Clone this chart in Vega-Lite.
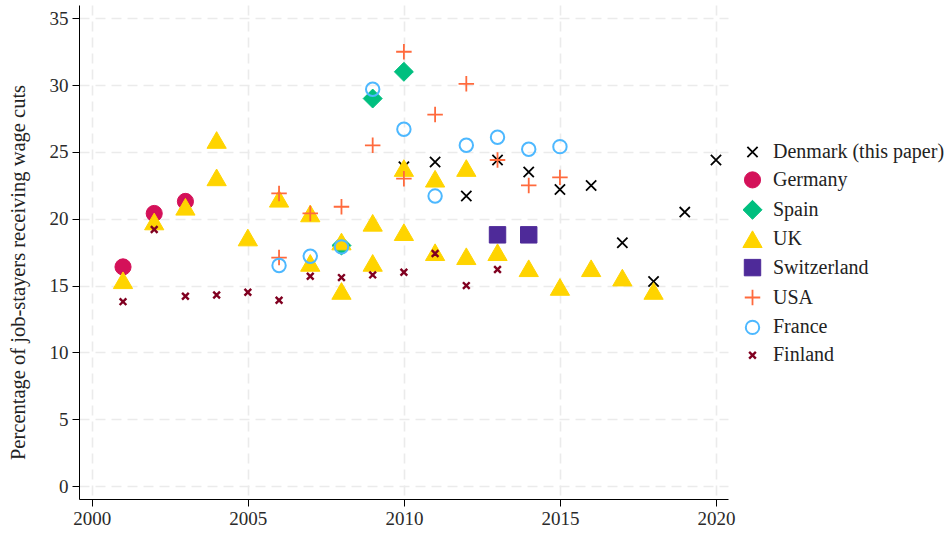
{
  "$schema": "https://vega.github.io/schema/vega-lite/v6.json",
  "autosize": {"type": "none"},
  "width": 649,
  "height": 494,
  "padding": {"left": 79, "top": 5, "right": 220, "bottom": 34},
  "background": "white",
  "config": {
    "font": "Liberation Serif",
    "view": {"stroke": null},
    "axis": {
      "labelFont": "Liberation Serif",
      "titleFont": "Liberation Serif",
      "labelFontSize": 19,
      "labelColor": "#2a2a2a",
      "titleColor": "#222222",
      "domainColor": "black",
      "tickColor": "black",
      "tickSize": 7,
      "gridColor": "#ebebeb",
      "gridDash": [10, 6],
      "gridWidth": 1.6
    },
    "legend": {
      "labelFont": "Liberation Serif",
      "labelFontSize": 20,
      "labelColor": "#222222",
      "labelLimit": 400
    }
  },
  "data": {
    "values": [
      {"country": "Denmark (this paper)", "year": 2010, "value": 23.9},
      {"country": "Denmark (this paper)", "year": 2011, "value": 24.25},
      {"country": "Denmark (this paper)", "year": 2012, "value": 21.7},
      {"country": "Denmark (this paper)", "year": 2013, "value": 24.4},
      {"country": "Denmark (this paper)", "year": 2014, "value": 23.5},
      {"country": "Denmark (this paper)", "year": 2015, "value": 22.2},
      {"country": "Denmark (this paper)", "year": 2016, "value": 22.5},
      {"country": "Denmark (this paper)", "year": 2017, "value": 18.2},
      {"country": "Denmark (this paper)", "year": 2018, "value": 15.3},
      {"country": "Denmark (this paper)", "year": 2019, "value": 20.5},
      {"country": "Denmark (this paper)", "year": 2020, "value": 24.4},
      {"country": "Germany", "year": 2001, "value": 16.4},
      {"country": "Germany", "year": 2002, "value": 20.4},
      {"country": "Germany", "year": 2003, "value": 21.3},
      {"country": "Spain", "year": 2008, "value": 18.0},
      {"country": "Spain", "year": 2009, "value": 29.0},
      {"country": "Spain", "year": 2010, "value": 31.0},
      {"country": "UK", "year": 2001, "value": 15.4},
      {"country": "UK", "year": 2002, "value": 19.8},
      {"country": "UK", "year": 2003, "value": 20.9},
      {"country": "UK", "year": 2004, "value": 25.9},
      {"country": "UK", "year": 2004, "value": 23.1},
      {"country": "UK", "year": 2005, "value": 18.6},
      {"country": "UK", "year": 2006, "value": 21.5},
      {"country": "UK", "year": 2007, "value": 20.4},
      {"country": "UK", "year": 2007, "value": 16.7},
      {"country": "UK", "year": 2008, "value": 18.3},
      {"country": "UK", "year": 2008, "value": 14.6},
      {"country": "UK", "year": 2009, "value": 19.7},
      {"country": "UK", "year": 2009, "value": 16.7},
      {"country": "UK", "year": 2010, "value": 23.8},
      {"country": "UK", "year": 2010, "value": 19.0},
      {"country": "UK", "year": 2011, "value": 23.0},
      {"country": "UK", "year": 2011, "value": 17.5},
      {"country": "UK", "year": 2012, "value": 23.8},
      {"country": "UK", "year": 2012, "value": 17.2},
      {"country": "UK", "year": 2013, "value": 17.5},
      {"country": "UK", "year": 2014, "value": 16.3},
      {"country": "UK", "year": 2015, "value": 14.9},
      {"country": "UK", "year": 2016, "value": 16.3},
      {"country": "UK", "year": 2017, "value": 15.6},
      {"country": "UK", "year": 2018, "value": 14.6},
      {"country": "Switzerland", "year": 2013, "value": 18.8},
      {"country": "Switzerland", "year": 2014, "value": 18.8},
      {"country": "USA", "year": 2006, "value": 21.9},
      {"country": "USA", "year": 2006, "value": 17.1},
      {"country": "USA", "year": 2007, "value": 20.4},
      {"country": "USA", "year": 2008, "value": 20.9},
      {"country": "USA", "year": 2009, "value": 25.5},
      {"country": "USA", "year": 2010, "value": 32.5},
      {"country": "USA", "year": 2010, "value": 23.0},
      {"country": "USA", "year": 2011, "value": 27.8},
      {"country": "USA", "year": 2012, "value": 30.1},
      {"country": "USA", "year": 2013, "value": 24.4},
      {"country": "USA", "year": 2014, "value": 22.5},
      {"country": "USA", "year": 2015, "value": 23.1},
      {"country": "France", "year": 2006, "value": 16.5},
      {"country": "France", "year": 2007, "value": 17.2},
      {"country": "France", "year": 2008, "value": 17.9},
      {"country": "France", "year": 2009, "value": 29.7},
      {"country": "France", "year": 2010, "value": 26.7},
      {"country": "France", "year": 2011, "value": 21.7},
      {"country": "France", "year": 2012, "value": 25.5},
      {"country": "France", "year": 2013, "value": 26.1},
      {"country": "France", "year": 2014, "value": 25.2},
      {"country": "France", "year": 2015, "value": 25.4},
      {"country": "Finland", "year": 2001, "value": 13.8},
      {"country": "Finland", "year": 2002, "value": 19.2},
      {"country": "Finland", "year": 2003, "value": 14.2},
      {"country": "Finland", "year": 2004, "value": 14.3},
      {"country": "Finland", "year": 2005, "value": 14.5},
      {"country": "Finland", "year": 2006, "value": 13.9},
      {"country": "Finland", "year": 2007, "value": 15.7},
      {"country": "Finland", "year": 2008, "value": 15.6},
      {"country": "Finland", "year": 2009, "value": 15.8},
      {"country": "Finland", "year": 2010, "value": 16.0},
      {"country": "Finland", "year": 2011, "value": 17.4},
      {"country": "Finland", "year": 2012, "value": 15.0},
      {"country": "Finland", "year": 2013, "value": 16.2}
    ]
  },
  "mark": {"type": "point", "opacity": 1},
  "encoding": {
    "x": {
      "field": "year", "type": "quantitative",
      "scale": {"domain": [1999.59, 2020.385], "nice": false, "zero": false},
      "axis": {"values": [2000, 2005, 2010, 2015, 2020], "format": "d", "title": null, "labelPadding": 3}
    },
    "y": {
      "field": "value", "type": "quantitative",
      "scale": {"domain": [-0.97, 36], "nice": false, "zero": false},
      "axis": {
        "values": [0, 5, 10, 15, 20, 25, 30, 35],
        "title": "Percentage of job-stayers receiving wage cuts",
        "titleFontSize": 20.5,
        "titleFontWeight": "normal",
        "titleX": -51,
        "titleY": 267,
        "labelPadding": 4
      }
    },
    "shape": {
      "field": "country", "type": "nominal",
      "scale": {
        "domain": ["Denmark (this paper)", "Germany", "Spain", "UK", "Switzerland", "USA", "France", "Finland"],
        "range": ["M-1,-1L1,1M-1,1L1,-1", "circle", "diamond", "triangle-up", "square", "M-1,0L1,0M0,-1L0,1", "circle", "M-1,-1L1,1M-1,1L1,-1"]
      },
      "legend": {
        "title": null, "orient": "none", "legendX": 663, "legendY": 137,
        "rowPadding": 6.9, "labelOffset": 10
      }
    },
    "fill": {
      "field": "country", "type": "nominal",
      "scale": {
        "domain": ["Denmark (this paper)", "Germany", "Spain", "UK", "Switzerland", "USA", "France", "Finland"],
        "range": ["transparent", "#d41159", "#00bf7f", "#ffd400", "#4e2a99", "transparent", "transparent", "transparent"]
      },
      "legend": {"title": null, "orient": "none", "legendX": 663, "legendY": 137, "rowPadding": 6.9, "labelOffset": 10}
    },
    "stroke": {
      "field": "country", "type": "nominal",
      "scale": {
        "domain": ["Denmark (this paper)", "Germany", "Spain", "UK", "Switzerland", "USA", "France", "Finland"],
        "range": ["#000000", "#d41159", "#00bf7f", "#ffd400", "#4e2a99", "#ff6a3d", "#4db8ff", "#800020"]
      },
      "legend": {"title": null, "orient": "none", "legendX": 663, "legendY": 137, "rowPadding": 6.9, "labelOffset": 10}
    },
    "strokeWidth": {
      "field": "country", "type": "nominal",
      "scale": {
        "type": "ordinal",
        "domain": ["Denmark (this paper)", "Germany", "Spain", "UK", "Switzerland", "USA", "France", "Finland"],
        "range": [1.8, 1, 1, 1, 1, 1.8, 2, 2.4]
      },
      "legend": {"title": null, "orient": "none", "legendX": 663, "legendY": 137, "rowPadding": 6.9, "labelOffset": 10}
    },
    "size": {
      "field": "country", "type": "nominal",
      "scale": {
        "type": "ordinal",
        "domain": ["Denmark (this paper)", "Germany", "Spain", "UK", "Switzerland", "USA", "France", "Finland"],
        "range": [105, 260, 360, 370, 270, 240, 180, 45]
      },
      "legend": {"title": null, "orient": "none", "legendX": 663, "legendY": 137, "rowPadding": 6.9, "labelOffset": 10}
    }
  }
}
